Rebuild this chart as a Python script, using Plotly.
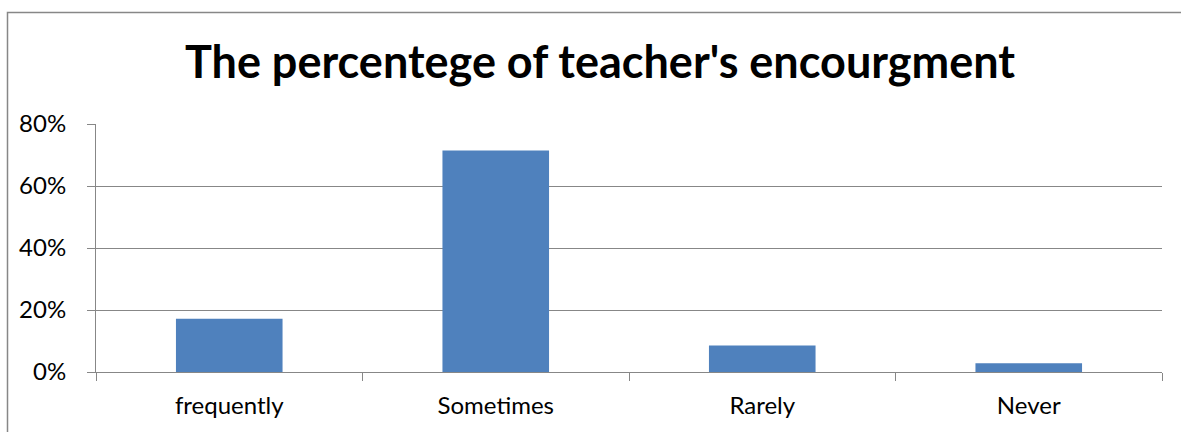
import plotly.graph_objects as go

categories = ["frequently", "Sometimes", "Rarely", "Never"]
percent = [17.14, 71.43, 8.57, 2.86]
y_ticks = [0, 20, 40, 60, 80]
y_labels = ["0%", "20%", "40%", "60%", "80%"]

W, H = 1181, 432
L, R, T, B = 96, 19, 124, 60
pw, ph = W - L - R, H - T - B


def px_x(x):
    return (x - L) / pw


def px_y(y):
    return 1 - (y - T) / ph


GRID = "#878787"
FONT = "Lato, Carlito, 'Open Sans', sans-serif"

fig = go.Figure()
fig.add_trace(go.Bar(
    x=categories, y=percent,
    marker={"color": "#4F81BD", "line": {"width": 0}},
    width=0.4,
))

fig.update_layout(
    width=W, height=H,
    paper_bgcolor="white", plot_bgcolor="white",
    margin={"l": L, "r": R, "t": T, "b": B},
    showlegend=False,
    title={
        "text": "<b>The percentege of teacher's encourgment</b>",
        "font": {"family": FONT, "size": 45, "color": "black"},
        "x": 600 / W, "xanchor": "center", "xref": "container",
        "y": 1 - 62 / H, "yanchor": "middle", "yref": "container",
    },
    xaxis={
        "showgrid": False, "zeroline": False,
        "showline": True, "linecolor": GRID, "linewidth": 1,
        "ticks": "outside", "tickson": "boundaries", "ticklen": 8,
        "tickcolor": GRID, "tickwidth": 1,
        "tickfont": {"family": FONT, "size": 24, "color": "black"},
        "ticklabelstandoff": 12,
    },
    yaxis={
        "range": [0, 80], "tickvals": y_ticks, "ticktext": y_labels,
        "showgrid": True, "gridcolor": GRID, "gridwidth": 1,
        "zeroline": False,
        "showline": True, "linecolor": GRID, "linewidth": 1,
        "ticks": "outside", "ticklen": 8, "tickcolor": GRID, "tickwidth": 1,
        "tickfont": {"family": FONT, "size": 24, "color": "black"},
        "ticklabelstandoff": 16,
    },
    shapes=[{
        "type": "rect", "xref": "paper", "yref": "paper",
        "x0": px_x(7.5), "x1": px_x(1195), "y0": px_y(450), "y1": px_y(12.5),
        "line": {"color": GRID, "width": 1.5}, "fillcolor": "rgba(0,0,0,0)",
        "layer": "below",
    }],
)

# drop the default body margin so the figure sits at the page corner
fig.write_html(
    "out.html",
    config={"displayModeBar": False},
    post_script="document.body.style.margin = '0';",
)
